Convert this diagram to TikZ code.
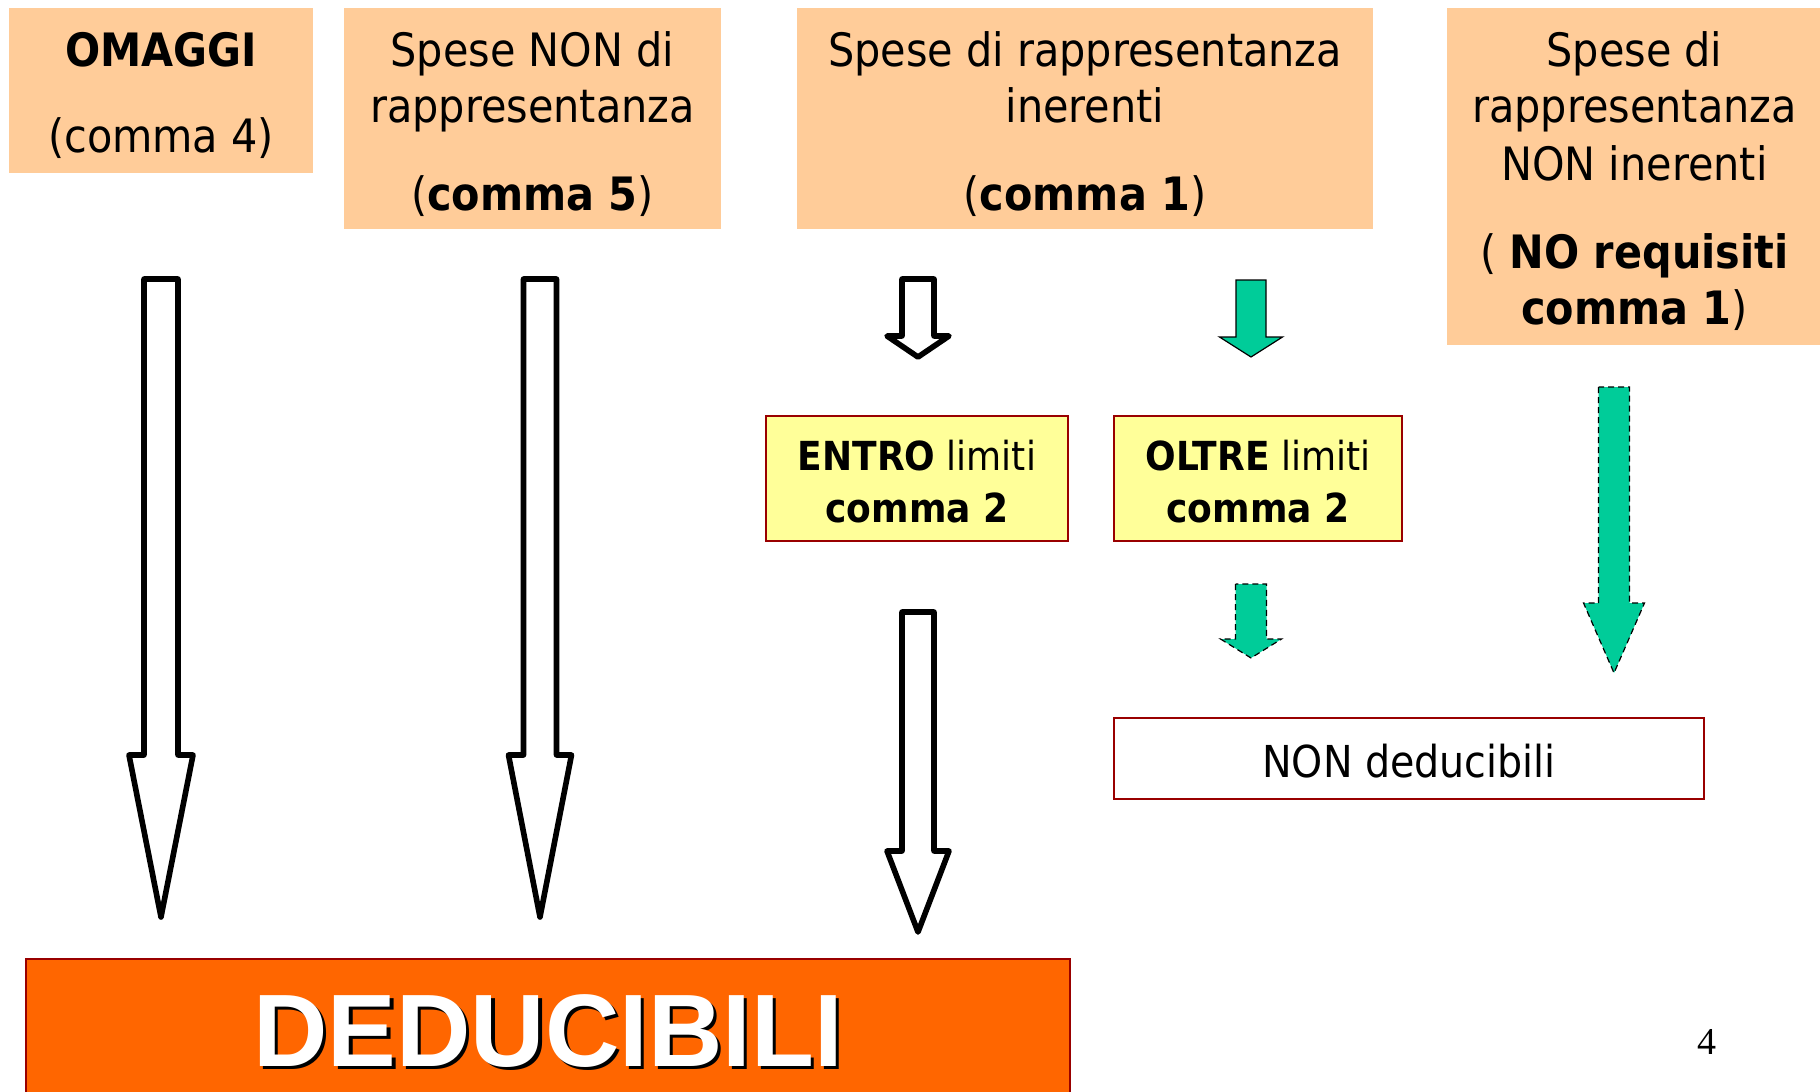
\documentclass[tikz,border=0pt]{standalone}
\usepackage{fontspec}
\setmainfont{DejaVu Sans Condensed}
\newfontfamily\arialfont{Liberation Sans}
\newfontfamily\timesfont{Liberation Serif}
\usetikzlibrary{calc}
\definecolor{peach}{HTML}{FFCC99}
\definecolor{yellowbg}{HTML}{FFFF99}
\definecolor{boxred}{HTML}{990000}
\definecolor{dedorange}{HTML}{FF6600}
\definecolor{arrowgreen}{HTML}{00CC99}
\tikzset{
  peachbox/.style={fill=peach, draw=none, inner sep=0pt},
  peachtext/.style={inner sep=0pt, align=center, font=\fontsize{23pt}{28pt}\selectfont},
  yelbox/.style={fill=yellowbg, draw=boxred, line width=1pt, inner sep=0pt},
  yeltext/.style={inner sep=0pt, align=center, font=\fontsize{20pt}{26pt}\selectfont},
  whitebox/.style={fill=white, draw=boxred, line width=1pt, inner sep=0pt},
  whitetext/.style={inner sep=0pt, align=center, font=\fontsize{22pt}{26pt}\selectfont},
  orangebox/.style={fill=dedorange, draw=boxred, line width=0.8pt, inner sep=0pt},
  dedfont/.style={font=\arialfont\bfseries\fontsize{51.5pt}{60pt}\selectfont, inner sep=0pt},
  hollow/.style={draw=black, fill=white, line width=2.8pt, line join=round},
  greenarrow/.style={draw=black, fill=arrowgreen, line width=0.6pt, line join=miter},
  greendash/.style={greenarrow, dash pattern=on 3pt off 2pt},
}
\newcommand\blockarrow[6]{\path[#1] ($(#2)+(-#4,0)$) -- ($(#3)+(-#4,-#6)$) -- ($(#3)+(-#5,-#6)$) -- (#3) -- ($(#3)+(#5,-#6)$) -- ($(#3)+(#4,-#6)$) -- ($(#2)+(#4,0)$) -- cycle;}
\begin{document}
\begin{tikzpicture}[x=0.5pt,y=-0.5pt]
\useasboundingbox (0,0) rectangle (1820,1092);
% top boxes
\node[peachbox, minimum width=152pt, minimum height=82.5pt] (omaggi) at (161,90.5) {};
\node[peachtext] (omaggitext) at ($(omaggi.center)+(0,5)$)
  {\textbf{OMAGGI}\\[15pt](comma 4)};
\node[peachbox, minimum width=188.5pt, minimum height=110.5pt] (nonrapp) at (532.5,118.5) {};
\node[peachtext] (nonrapptext) at ($(nonrapp.center)+(0,6)$)
  {Spese NON di\\rappresentanza\\[16pt](\textbf{comma 5})};
\node[peachbox, minimum width=288pt, minimum height=110.5pt] (inerenti) at (1085,118.5) {};
\node[peachtext] (inerentitext) at ($(inerenti.center)+(0,6)$)
  {Spese di rappresentanza\\inerenti\\[16pt](\textbf{comma 1})};
\node[peachbox, minimum width=187.5pt, minimum height=168.5pt] (noninerenti) at (1634.5,176.5) {};
\node[peachtext] (noninerentitext) at ($(noninerenti.center)+(0,5)$)
  {Spese di\\rappresentanza\\[1pt]NON inerenti\\[16pt]( \textbf{NO requisiti}\\\textbf{comma 1})};
% middle boxes
\node[yelbox, minimum width=151pt, minimum height=62.5pt] (entro) at (917,478.5) {};
\node[yeltext] (entrotext) at ($(entro.center)+(0,3.5)$)
  {\textbf{ENTRO} limiti\\\textbf{comma 2}};
\node[yelbox, minimum width=144pt, minimum height=62.5pt] (oltre) at (1258,478.5) {};
\node[yeltext] (oltretext) at ($(oltre.center)+(0,3.5)$)
  {\textbf{OLTRE} limiti\\\textbf{comma 2}};
\node[whitebox, minimum width=295pt, minimum height=40.5pt] (nonded) at (1409,758.5) {};
\node[whitetext] (nondedtext) at ($(nonded.center)+(0,2.5)$) {NON deducibili};
% bottom box
\node[orangebox, minimum width=522pt, minimum height=72pt] (ded) at (548,1031) {};
\node[dedfont, text=black] (dedshadow) at ($(ded.center)+(3.5,3.5)$) {DEDUCIBILI};
\node[dedfont, text=white] (dedtext) at (ded.center) {DEDUCIBILI};
% page number
\node[font=\timesfont\fontsize{19pt}{22pt}\selectfont, inner sep=0pt] (pagenum) at (1707,1042) {4};
% arrows
\coordinate (a1s) at (161,279); \coordinate (a1e) at (161,917);
\coordinate (a2s) at (540,279); \coordinate (a2e) at (540,917);
\coordinate (a3s) at (918,279); \coordinate (a3e) at (918,357);
\coordinate (a4s) at (918,612); \coordinate (a4e) at (918,932);
\coordinate (g1s) at (1251,280); \coordinate (g1e) at (1251,357);
\coordinate (g2s) at (1251,584); \coordinate (g2e) at (1251,658);
\coordinate (g3s) at (1614,387); \coordinate (g3e) at (1614,673);
\blockarrow{hollow}{a1s}{a1e}{17}{32}{162}
\blockarrow{hollow}{a2s}{a2e}{16.5}{31.5}{162}
\blockarrow{hollow}{a3s}{a3e}{16}{31}{21}
\blockarrow{hollow}{a4s}{a4e}{16}{31}{81}
\blockarrow{greenarrow}{g1s}{g1e}{15}{31.5}{20}
\blockarrow{greendash}{g2s}{g2e}{15.5}{30.5}{19}
\blockarrow{greendash}{g3s}{g3e}{15.5}{30.5}{70}
\end{tikzpicture}
\end{document}
